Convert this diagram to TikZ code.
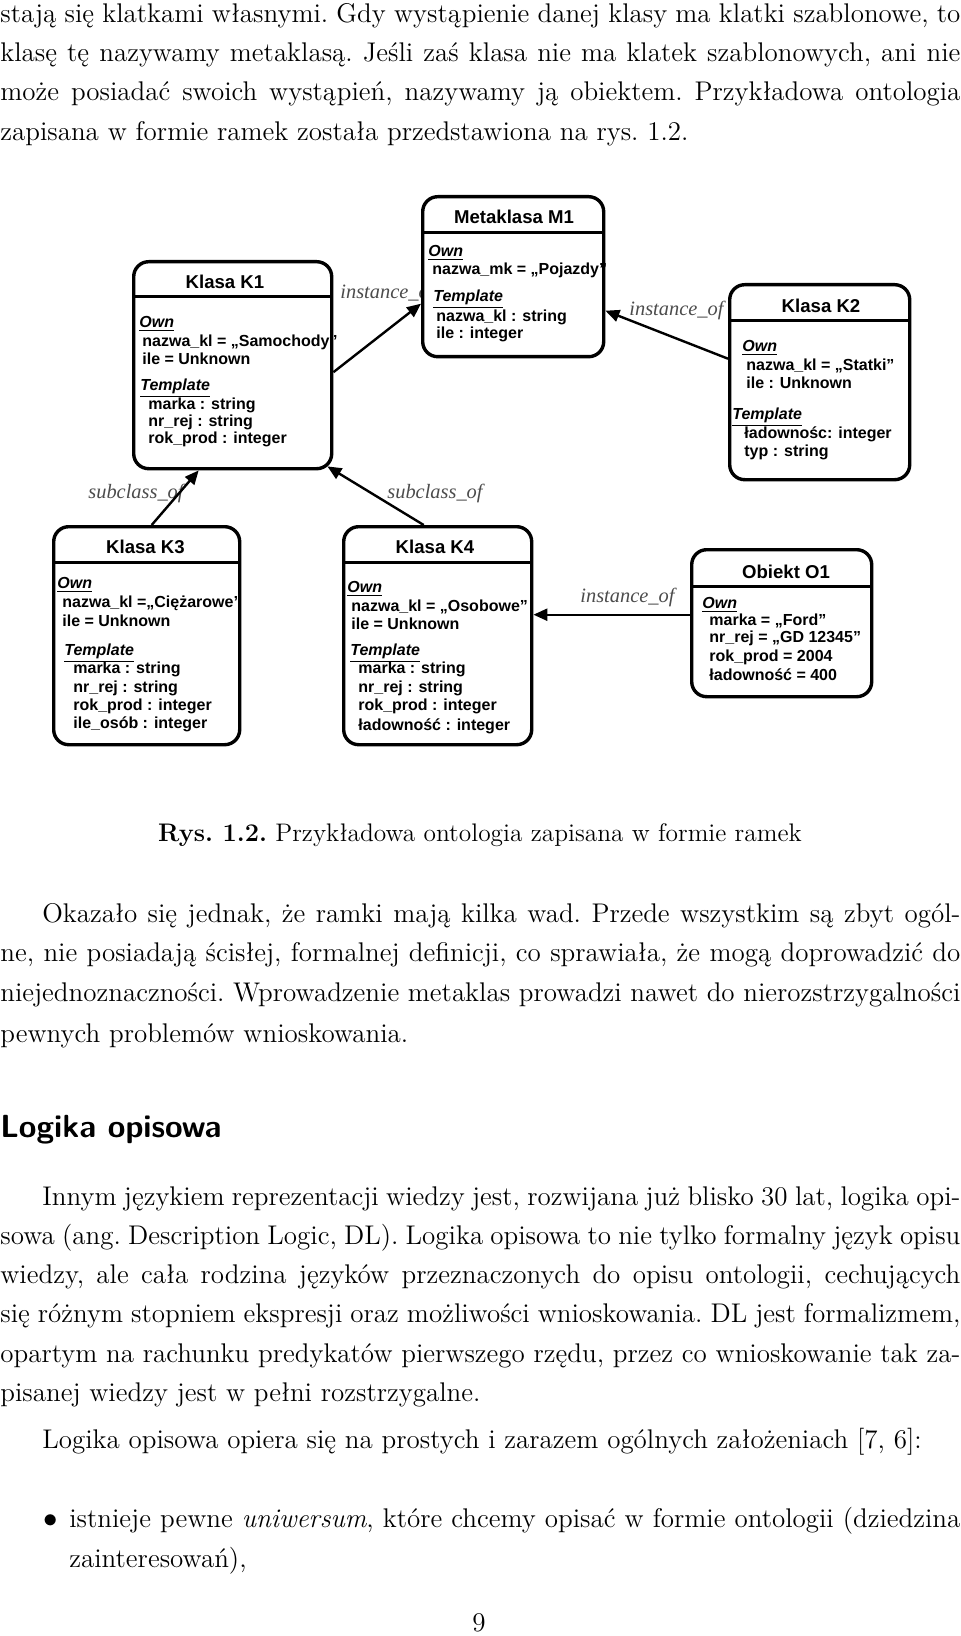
\documentclass[tikz,border=0pt]{standalone}
\usepackage{fontspec}
\newfontfamily\dgm{Liberation Sans}
\newfontfamily\labfont{Liberation Serif}
\usetikzlibrary{arrows.meta}
\tikzset{
  body/.style={anchor=base west, inner sep=0, font=\fontsize{13.5}{16}\selectfont\frenchspacing},
  frame/.style={draw, line width=1.7pt, rounded corners=7.5pt, fill=white, inner sep=0, anchor=north west},
  sepline/.style={line width=1.5pt},
  conn/.style={line width=1.2pt, -{Triangle[length=7pt,width=6pt]}},
  lbl/.style={font=\labfont\itshape\fontsize{10.2}{12}\selectfont, text=black!70, inner sep=0, anchor=west},
  ttl/.style={font=\dgm\bfseries\fontsize{9.3}{11}\selectfont, inner sep=0},
  ln/.style={font=\dgm\bfseries\fontsize{8}{9}\selectfont, inner sep=0, anchor=west}
}
\newcommand{\hdr}[1]{\underline{\textit{#1}}}
\newcommand{\jl}[2]{\makebox[#1][s]{#2}}
\begin{document}
\begin{tikzpicture}[x=0.5pt,y=-0.5pt]
\useasboundingbox (0,0) rectangle (960,1636);
\fill[white] (0,0) rectangle (960,1636);
% paragraph 1
\node[body] (t1) at (0,23) {\jl{480pt}{stają się klatkami własnymi. Gdy wystąpienie danej klasy ma klatki szablonowe, to}};
\node[body] (t2) at (0,62) {\jl{480pt}{klasę tę nazywamy metaklasą. Jeśli zaś klasa nie ma klatek szablonowych, ani nie}};
\node[body] (t3) at (0,101) {\jl{480pt}{może posiadać swoich wystąpień, nazywamy ją obiektem. Przykładowa ontologia}};
\node[body] (t4) at (0,141) {zapisana w formie ramek została przedstawiona na rys. 1.2.};
% labels (drawn under boxes)
\node[lbl] (l1) at (340,293) {instance\_of};
\node[lbl] (l2) at (629,310) {instance\_of};
\node[lbl] (l3) at (88,493) {subclass\_of};
\node[lbl] (l4) at (387,493) {subclass\_of};
\node[lbl] (l5) at (580,597) {instance\_of};
% boxes
\node[frame, minimum width=90.5pt, minimum height=80pt] (m1) at (421,195) {};
\node[frame, minimum width=99pt, minimum height=103.5pt] (k1) at (132,260) {};
\node[frame, minimum width=90pt, minimum height=97.5pt] (k2) at (728,283) {};
\node[frame, minimum width=93pt, minimum height=109pt] (k3) at (52,525) {};
\node[frame, minimum width=94pt, minimum height=109pt] (k4) at (342,525) {};
\node[frame, minimum width=90pt, minimum height=73.5pt] (o1) at (690,548) {};
\draw[sepline] ([yshift=-19pt]m1.north west) -- ([yshift=-19pt]m1.north east);
\draw[sepline] ([yshift=-18.5pt]k1.north west) -- ([yshift=-18.5pt]k1.north east);
\draw[sepline] ([yshift=-19pt]k2.north west) -- ([yshift=-19pt]k2.north east);
\draw[sepline] ([yshift=-18.5pt]k3.north west) -- ([yshift=-18.5pt]k3.north east);
\draw[sepline] ([yshift=-18.5pt]k4.north west) -- ([yshift=-18.5pt]k4.north east);
\draw[sepline] ([yshift=-19pt]o1.north west) -- ([yshift=-19pt]o1.north east);
% titles
\node[ttl] (m1t) at (514,217) {Metaklasa M1};
\node[ttl] (k1t) at (225,282) {Klasa K1};
\node[ttl] (k2t) at (821,306) {Klasa K2};
\node[ttl] (k3t) at (145.5,547) {Klasa K3};
\node[ttl] (k4t) at (435,547) {Klasa K4};
\node[ttl] (o1t) at (786,572) {Obiekt O1};
% M1
\node[ln] (m1a) at (428,253) {\hdr{Own}};
\node[ln] (m1b) at (432,270) {nazwa\_mk = „Pojazdy”};
\node[ln] (m1c) at (433,299) {\hdr{Template}};
\node[ln] (m1d) at (436,317) {nazwa\_kl : string};
\node[ln] (m1e) at (436,334) {ile : integer};
% K1
\node[ln] (k1a) at (139,324) {\hdr{Own}};
\node[ln] (k1b) at (142,342) {nazwa\_kl = „Samochody”};
\node[ln] (k1c) at (142,359) {ile = Unknown};
\node[ln] (k1d) at (140,388) {\hdr{Template}};
\node[ln] (k1e) at (148,405) {marka : string};
\node[ln] (k1f) at (148,422) {nr\_rej : string};
\node[ln] (k1g) at (148,439) {rok\_prod : integer};
% K2
\node[ln] (k2a) at (742,348) {\hdr{Own}};
\node[ln] (k2b) at (746,366) {nazwa\_kl = „Statki”};
\node[ln] (k2c) at (746,383) {ile : Unknown};
\node[ln] (k2d) at (732,417) {\hdr{Template}};
\node[ln] (k2e) at (744,434) {ładownośc: integer};
\node[ln] (k2f) at (744,452) {typ : string};
% K3
\node[ln] (k3a) at (57,585) {\hdr{Own}};
\node[ln] (k3b) at (62,603) {nazwa\_kl =„Ciężarowe”};
\node[ln] (k3c) at (62,621) {ile = Unknown};
\node[ln] (k3d) at (64,653) {\hdr{Template}};
\node[ln] (k3e) at (73,669) {marka : string};
\node[ln] (k3f) at (73,688) {nr\_rej : string};
\node[ln] (k3g) at (73,706) {rok\_prod : integer};
\node[ln] (k3h) at (73,724) {ile\_osób : integer};
% K4
\node[ln] (k4a) at (347,589) {\hdr{Own}};
\node[ln] (k4b) at (351,607) {nazwa\_kl = „Osobowe”};
\node[ln] (k4c) at (351,624) {ile = Unknown};
\node[ln] (k4d) at (350,653) {\hdr{Template}};
\node[ln] (k4e) at (358,669) {marka : string};
\node[ln] (k4f) at (358,688) {nr\_rej : string};
\node[ln] (k4g) at (358,706) {rok\_prod : integer};
\node[ln] (k4h) at (358,726) {ładowność : integer};
% O1
\node[ln] (o1a) at (702,605) {\hdr{Own}};
\node[ln] (o1b) at (709,621) {marka = „Ford”};
\node[ln] (o1c) at (709,638) {nr\_rej = „GD 12345”};
\node[ln] (o1d) at (709,657) {rok\_prod = 2004};
\node[ln] (o1e) at (709,675) {ładowność = 400};
% connectors
\draw[conn] ([yshift=-3.5pt]k1.east) -- ([yshift=-13.5pt]m1.west);
\draw[conn] ([yshift=11.75pt]k2.west) -- ([yshift=-17pt]m1.east);
\draw[conn] ([xshift=2.5pt]k3.north) -- ([xshift=-17pt]k1.south);
\draw[conn] ([xshift=-7pt]k4.north) -- ([xshift=-3pt,yshift=2pt]k1.south east);
\draw[conn] ([yshift=4.25pt]o1.west) -- ([yshift=10.5pt]k4.east);
% caption
\node[body, anchor=base, font=\fontsize{12.7}{15}\selectfont\frenchspacing] (cap) at (480,841) {\textbf{Rys. 1.2.} Przykładowa ontologia zapisana w formie ramek};
% paragraph 2
\node[body] (u1) at (42,922) {\jl{459pt}{Okazało się jednak, że ramki mają kilka wad. Przede wszystkim są zbyt ogól-}};
\node[body] (u2) at (0,961) {\jl{480pt}{ne, nie posiadają ścisłej, formalnej definicji, co sprawiała, że mogą doprowadzić do}};
\node[body] (u3) at (0,1001) {\jl{480pt}{niejednoznaczności. Wprowadzenie metaklas prowadzi nawet do nierozstrzygalności}};
\node[body] (u4) at (0,1042) {pewnych problemów wnioskowania.};
% heading
\node[body, font=\sffamily\bfseries\fontsize{16}{18}\selectfont] (hd) at (0,1137) {Logika opisowa};
% paragraph 3
\node[body] (v1) at (42,1205) {\jl{459pt}{Innym językiem reprezentacji wiedzy jest, rozwijana już blisko 30 lat, logika opi-}};
\node[body] (v2) at (0,1244) {\jl{480pt}{sowa (ang. Description Logic, DL). Logika opisowa to nie tylko formalny język opisu}};
\node[body] (v3) at (0,1283) {\jl{480pt}{wiedzy, ale cała rodzina języków przeznaczonych do opisu ontologii, cechujących}};
\node[body] (v4) at (0,1322) {\jl{480pt}{się różnym stopniem ekspresji oraz możliwości wnioskowania. DL jest formalizmem,}};
\node[body] (v5) at (0,1362) {\jl{480pt}{opartym na rachunku predykatów pierwszego rzędu, przez co wnioskowanie tak za-}};
\node[body] (v6) at (0,1401) {pisanej wiedzy jest w pełni rozstrzygalne.};
% paragraph 4
\node[body] (w1) at (42,1448) {Logika opisowa opiera się na prostych i zarazem ogólnych założeniach [7, 6]:};
% bullet
\node[body] (bul) at (43,1527) {$\bullet$};
\node[body] (x1) at (69,1527) {\jl{445.5pt}{istnieje pewne \textit{uniwersum}, które chcemy opisać w formie ontologii (dziedzina}};
\node[body] (x2) at (69,1567) {zainteresowań),};
% page number
\node[body, anchor=base] (pg) at (479,1631) {9};
\end{tikzpicture}
\end{document}
